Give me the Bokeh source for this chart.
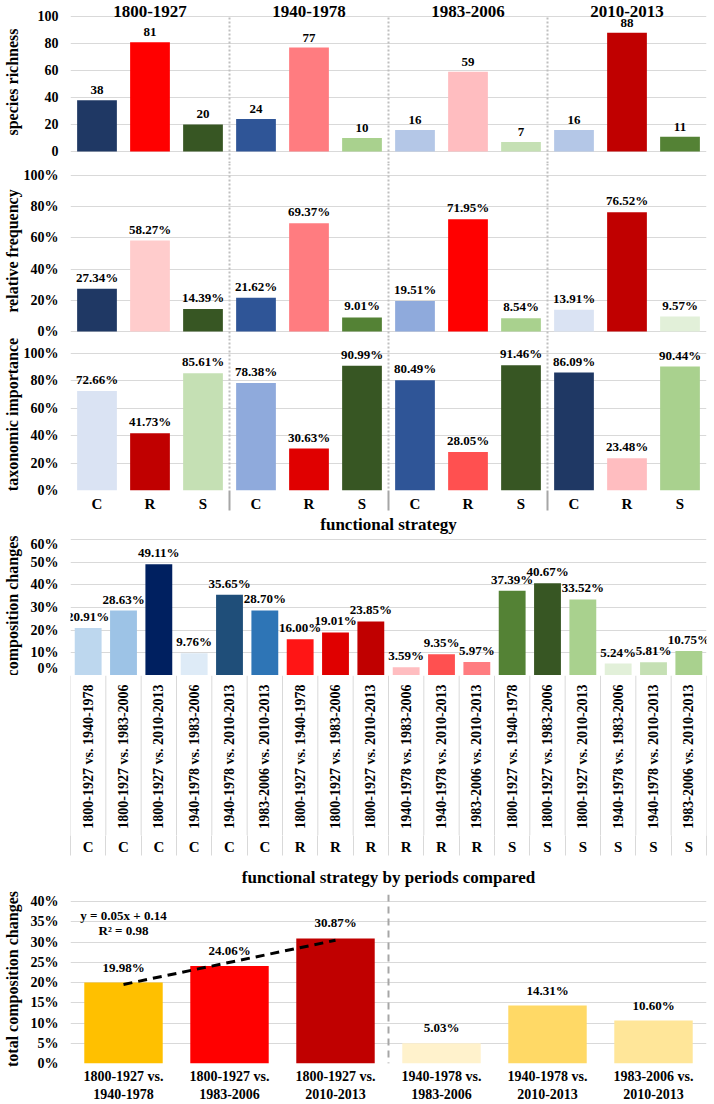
import numpy as np
from bokeh.plotting import figure
from bokeh.layouts import column
from bokeh.models import ColumnDataSource, FixedTicker, PrintfTickFormatter, Span, Range1d, Label
from bokeh.core.properties import value
from bokeh.embed import file_html
from bokeh.resources import INLINE

# ---------------- data ----------------
periods = ["1800-1927", "1940-1978", "1983-2006", "2010-2013"]
strategies = ["C", "R", "S"]
richness = [38, 81, 20, 24, 77, 10, 16, 59, 7, 16, 88, 11]
rel_freq = [27.34, 58.27, 14.39, 21.62, 69.37, 9.01, 19.51, 71.95, 8.54, 13.91, 76.52, 9.57]
tax_imp = [72.66, 41.73, 85.61, 78.38, 30.63, 90.99, 80.49, 28.05, 91.46, 86.09, 23.48, 90.44]

comparisons = ["1800-1927 vs. 1940-1978", "1800-1927 vs. 1983-2006", "1800-1927 vs. 2010-2013",
               "1940-1978 vs. 1983-2006", "1940-1978 vs. 2010-2013", "1983-2006 vs. 2010-2013"]
comp_strategy = ["C"] * 6 + ["R"] * 6 + ["S"] * 6
comp_periods = comparisons * 3
comp_changes = [20.91, 28.63, 49.11, 9.76, 35.65, 28.70,
                16.00, 19.01, 23.85, 3.59, 9.35, 5.97,
                37.39, 40.67, 33.52, 5.24, 5.81, 10.75]

total_labels = ["1800-1927 vs.\n1940-1978", "1800-1927 vs.\n1983-2006", "1800-1927 vs.\n2010-2013",
                "1940-1978 vs.\n1983-2006", "1940-1978 vs.\n2010-2013", "1983-2006 vs.\n2010-2013"]
total_changes = [19.98, 24.06, 30.87, 5.03, 14.31, 10.60]

# ---------------- styles ----------------
rich_colors = ["#1F3864", "#FF0000", "#375623", "#2F5597", "#FF7C80", "#A9D18E",
               "#B4C7E7", "#FFBDC0", "#C5E0B4", "#B4C7E7", "#C00000", "#548235"]
freq_colors = ["#1F3864", "#FFCCCC", "#375623", "#2F5597", "#FF7C80", "#548235",
               "#8FAADC", "#FF0000", "#A9D18E", "#DAE3F3", "#C00000", "#E2F0D9"]
tax_colors = ["#DAE3F3", "#C00000", "#C5E0B4", "#8FAADC", "#E00000", "#375623",
              "#2F5597", "#FF5050", "#375623", "#1F3864", "#FFBDC0", "#A9D18E"]
comp_colors = ["#BDD7EE", "#9DC3E6", "#002060", "#DEEBF7", "#1F4E79", "#2E75B6",
               "#FF1515", "#E00000", "#C00000", "#FFBDC0", "#FF5050", "#FF7C80",
               "#548235", "#375623", "#A9D18E", "#E2F0D9", "#C5E0B4", "#A9D18E"]
total_colors = ["#FFC000", "#FF0000", "#C00000", "#FFF2CC", "#FFD966", "#FFE699"]

FONT = "Liberation Serif"
FW = 636
LB = 70
GRID = "#D9D9D9"
SEP = "#BFBFBF"


def make_fig(frame_height, y0, y1, x_range, border_top=0, x_axis=True, y_axis=True):
    p = figure(frame_width=FW, frame_height=frame_height,
               x_range=x_range, y_range=Range1d(y0, y1),
               output_backend="svg", toolbar_location=None,
               x_axis_location="below" if x_axis else None,
               y_axis_location="left" if y_axis else None,
               min_border_left=LB, min_border_right=4,
               min_border_top=border_top, min_border_bottom=0)
    p.outline_line_color = None
    p.xgrid.visible = False
    if not y_axis:
        p.ygrid.visible = False
    return p


def style_y(p, ticks, fmt, label, label_standoff=0):
    t = FixedTicker(ticks=ticks)
    p.yaxis.ticker = t
    p.ygrid.ticker = t
    p.ygrid.grid_line_color = GRID
    p.ygrid.grid_line_width = 1
    p.yaxis.formatter = PrintfTickFormatter(format=fmt)
    ax = p.yaxis[0]
    ax.axis_line_color = None
    ax.major_tick_line_color = None
    ax.minor_tick_line_color = None
    ax.major_tick_out = 0
    ax.minor_tick_out = 0
    ax.major_label_text_font = FONT
    ax.major_label_text_font_style = "bold"
    ax.major_label_text_font_size = "14px"
    ax.major_label_text_color = "black"
    ax.major_label_standoff = 12
    ax.axis_label = label
    ax.axis_label_text_font = FONT
    ax.axis_label_text_font_style = "bold"
    ax.axis_label_text_font_size = "16px"
    ax.axis_label_text_color = "black"
    ax.axis_label_standoff = label_standoff


def style_x(ax, centers, labels, minor, minor_out, size="15px"):
    ax.ticker = FixedTicker(ticks=centers, minor_ticks=minor)
    ax.major_label_overrides = {c: l for c, l in zip(centers, labels)}
    ax.axis_line_color = None
    ax.major_tick_line_color = None
    ax.major_tick_out = 0
    ax.major_tick_in = 0
    ax.minor_tick_in = 0
    ax.minor_tick_out = minor_out
    ax.major_label_text_font = FONT
    ax.major_label_text_font_style = "bold"
    ax.major_label_text_font_size = size
    ax.major_label_text_color = "black"
    ax.axis_label_text_font = FONT
    ax.axis_label_text_font_style = "bold"
    ax.axis_label_text_font_size = "17px"
    ax.axis_label_text_color = "black"


def bars(p, vals, colors, width, fmt, yoff=4):
    xs = [i + 0.5 for i in range(len(vals))]
    src = ColumnDataSource(dict(x=xs, top=vals, color=colors))
    p.vbar(x="x", top="top", width=width, bottom=0, fill_color="color", line_color=None, source=src)
    for xv, v in zip(xs, vals):
        p.add_layout(Label(x=xv, y=v, text=fmt(v), text_align="center", text_baseline="bottom",
                           y_offset=yoff, text_font=FONT, text_font_style="bold",
                           text_font_size="13px", text_color="black"))
    return xs


n12 = len(richness)
group_bounds = [3, 6, 9]
xr12 = Range1d(0, n12)

# ---- panel 1: species richness ----
p1 = make_fig(163, -8.9, 111.85, xr12, x_axis=False)
style_y(p1, [0, 20, 40, 60, 80, 100], "%d", "species richness", label_standoff=14)
bars(p1, richness, rich_colors, 0.75, lambda v: f"{v:d}", yoff=6)
p1.segment(x0=group_bounds, x1=group_bounds, y0=[-8.9] * 3, y1=[100] * 3,
           line_color=SEP, line_width=2, line_dash="2 2")
p1.text(x=[1.5, 4.5, 7.5, 10.5], y=[103.4] * 4, text=periods, text_align="center",
        text_baseline="middle", text_font=value(FONT), text_font_style="bold",
        text_font_size="17px", text_color="black")

# ---- panel 2: relative frequency ----
p2 = make_fig(175, -4.5, 107.7, xr12, x_axis=False)
style_y(p2, [0, 20, 40, 60, 80, 100], "%d%%", "relative frequency")
bars(p2, rel_freq, freq_colors, 0.75, lambda v: f"{v:.2f}%")
for b in group_bounds:
    p2.add_layout(Span(location=b, dimension="height", line_color=SEP, line_width=2, line_dash="2 2"))

# ---- panel 3: taxonomic importance ----
p3 = make_fig(152, 0, 110.9, xr12)
style_y(p3, [0, 20, 40, 60, 80, 100], "%d%%", "taxonomic importance")
xs3 = bars(p3, tax_imp, tax_colors, 0.75, lambda v: f"{v:.2f}%")
for b in group_bounds:
    p3.add_layout(Span(location=b, dimension="height", line_color=SEP, line_width=2, line_dash="2 2"))
ax3 = p3.xaxis[0]
style_x(ax3, xs3, strategies * 4, group_bounds, 20)
ax3.minor_tick_line_color = "#A6A6A6"
ax3.minor_tick_line_width = 2
ax3.major_label_standoff = -15
ax3.axis_label = "functional strategy"
ax3.axis_label_standoff = 0

# ---- panel 4: composition changes ----
n18 = len(comp_changes)
xr18 = Range1d(0, n18)
p4 = make_fig(139, 0, 61.3, xr18, x_axis=False)
style_y(p4, [0, 10, 20, 30, 40, 50, 60], "%d%%", "composition changes", label_standoff=7)
xs4 = bars(p4, comp_changes, comp_colors, 0.76, lambda v: f"{v:.2f}%")

# category cells under panel 4
bounds18 = list(range(n18 + 1))
p4b = make_fig(160, 0, 1, xr18, y_axis=False)
for b in bounds18:
    p4b.add_layout(Span(location=b, dimension="height", line_color=GRID, line_width=1))
p4b.text(x=xs4, y=[0.944] * n18, text=comp_periods, angle=np.pi / 2,
         text_align="right", text_baseline="middle", text_font=value(FONT),
         text_font_style="bold", text_font_size="14px", text_color="black")
ax4b = p4b.xaxis[0]
style_x(ax4b, xs4, comp_strategy, bounds18, 20)
ax4b.minor_tick_line_color = GRID
ax4b.minor_tick_line_width = 1
ax4b.major_label_standoff = -17
ax4b.axis_label = "functional strategy by periods compared"
ax4b.axis_label_standoff = 10

# ---- panel 5: total composition changes ----
n6 = len(total_changes)
p5 = make_fig(169, 0, 41.73, Range1d(0, n6), border_top=5)
style_y(p5, [0, 5, 10, 15, 20, 25, 30, 35, 40], "%d%%", "total composition changes", label_standoff=7)
xs5 = bars(p5, total_changes, total_colors, 0.74, lambda v: f"{v:.2f}%", yoff=8)
ax5 = p5.xaxis[0]
style_x(ax5, xs5, total_labels, [], 0, size="14px")
ax5.major_label_standoff = 5
p5.add_layout(Span(location=3, dimension="height", line_color="#A6A6A6", line_width=2, line_dash="7 5"))

# linear trend over the first three comparisons
tx = np.array([1, 2, 3], dtype=float)
ty = np.array(total_changes[:3])
slope, icpt = np.polyfit(tx, ty, 1)
pred = slope * tx + icpt
r2 = 1 - np.sum((ty - pred) ** 2) / np.sum((ty - ty.mean()) ** 2)
p5.line(x=[xs5[0], xs5[2]], y=[pred[0], pred[2]], line_color="black", line_width=3, line_dash="9 6")
p5.text(x=[xs5[0], xs5[0]], y=[36.6, 32.8],
        text=[f"y = {slope / 100:.2f}x + {icpt / 100:.2f}", f"R\u00b2 = {r2:.2f}"],
        text_align="center", text_baseline="middle", text_font=value(FONT),
        text_font_style="bold", text_font_size="13px", text_color="black")

layout = column(p1, p2, p3, p4, p4b, p5, spacing=0)
open("out.html", "w").write(file_html(layout, INLINE))
